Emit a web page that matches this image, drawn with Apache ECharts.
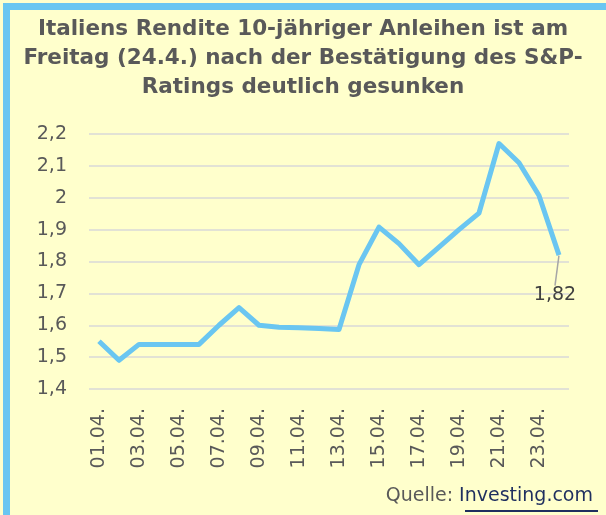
<!DOCTYPE html>
<html>
<head>
	<meta charset="utf-8" />
	<title>Italiens Rendite 10-jähriger Anleihen</title>
	<style type="text/css">
		html, body {
			margin: 0;
			padding: 0;
			background: #fff;
		}

		#main {
			width: 606px;
			height: 515px;
		}
	</style>
	<script src="https://cdn.jsdelivr.net/npm/echarts@6.0.0/dist/echarts.min.js"></script>
</head>
<body>

	<div id="main"></div>

	<script type="text/javascript">

		// Tage im April
		const tage = ['01.04.', '02.04.', '03.04.', '04.04.', '05.04.', '06.04.', '07.04.', '08.04.',
			'09.04.', '10.04.', '11.04.', '12.04.', '13.04.', '14.04.', '15.04.', '16.04.',
			'17.04.', '18.04.', '19.04.', '20.04.', '21.04.', '22.04.', '23.04.', '24.04.'];

		// Rendite in %
		const rendite = [1.55, 1.49, 1.54, 1.54, 1.54, 1.54, 1.60, 1.655,
			1.60, 1.594, 1.592, 1.59, 1.587, 1.79, 1.908, 1.856,
			1.79, 1.845, 1.90, 1.952, 2.17, 2.11, 2.007, 1.82];

		const titel = 'Italiens Rendite 10-jähriger Anleihen ist am\nFreitag (24.4.) nach der Bestätigung des S&P-\nRatings deutlich gesunken';

		const komma = (v) => String(Math.round(v * 100) / 100).replace('.', ',');

		const grau = '#595959';
		const blau = '#6AC6F1';

		const daten = rendite.map((v, i) => {
			if (i === rendite.length - 1) {
				return {
					value: v,
					symbol: 'circle',
					symbolSize: 1,
					itemStyle: { color: 'rgba(0,0,0,0)' },
					label: {
						show: true,
						position: 'bottom',
						distance: 30,
						formatter: (p) => komma(p.value),
						color: '#404040',
						fontSize: 19,
						fontFamily: 'DejaVu Sans'
					},
					labelLine: {
						show: true,
						lineStyle: { color: '#A6A6A6', width: 1.5 }
					}
				};
			}
			return v;
		});

		const options = {
			backgroundColor: '#FFFFCC',
			animation: false,
			title: [
				{
					text: titel,
					left: 'center',
					top: 10,
					textStyle: {
						fontFamily: 'DejaVu Sans',
						fontSize: 21.5,
						fontWeight: 'bold',
						color: grau,
						lineHeight: 29
					}
				},
				{
					text: '{q|Quelle: }{l|Investing.com}',
					right: 8,
					bottom: 4,
					textStyle: {
						fontWeight: 'normal',
						rich: {
							q: { fontFamily: 'DejaVu Sans', fontSize: 19, fontWeight: 'normal', color: grau },
							l: { fontFamily: 'DejaVu Sans', fontSize: 19, fontWeight: 'normal', color: '#1F2F5F' }
						}
					}
				}
			],
			graphic: [
				{ type: 'rect', shape: { x: 3, y: 3, width: 603, height: 7 }, style: { fill: blau } },
				{ type: 'rect', shape: { x: 3, y: 3, width: 7, height: 512 }, style: { fill: blau } },
				{ type: 'rect', shape: { x: 465, y: 510, width: 133, height: 2 }, style: { fill: '#1F2F5F' } }
			],
			grid: {
				left: 89,
				right: 37,
				top: 134,
				bottom: 126
			},
			xAxis: {
				type: 'category',
				data: tage,
				boundaryGap: true,
				axisLine: { show: false },
				axisTick: { show: false },
				axisLabel: {
					interval: 1,
					rotate: 90,
					margin: 19,
					fontFamily: 'DejaVu Sans',
					fontSize: 19,
					color: grau
				}
			},
			yAxis: {
				type: 'value',
				min: 1.4,
				max: 2.2,
				interval: 0.1,
				axisLine: { show: false },
				axisTick: { show: false },
				splitLine: {
					lineStyle: { color: '#D9D9D9', width: 1.5 }
				},
				axisLabel: {
					margin: 22,
					formatter: komma,
					fontFamily: 'DejaVu Sans',
					fontSize: 19,
					color: grau
				}
			},
			series: [
				{
					name: 'Rendite',
					type: 'line',
					data: daten,
					symbol: 'none',
					lineStyle: { color: blau, width: 5, join: 'round' },
					itemStyle: { color: blau },
					labelLayout: { dx: -4 }
				}
			]
		};

		const myChart = echarts.init(document.getElementById('main'));
		myChart.setOption(options);

	</script>
</body>
</html>
